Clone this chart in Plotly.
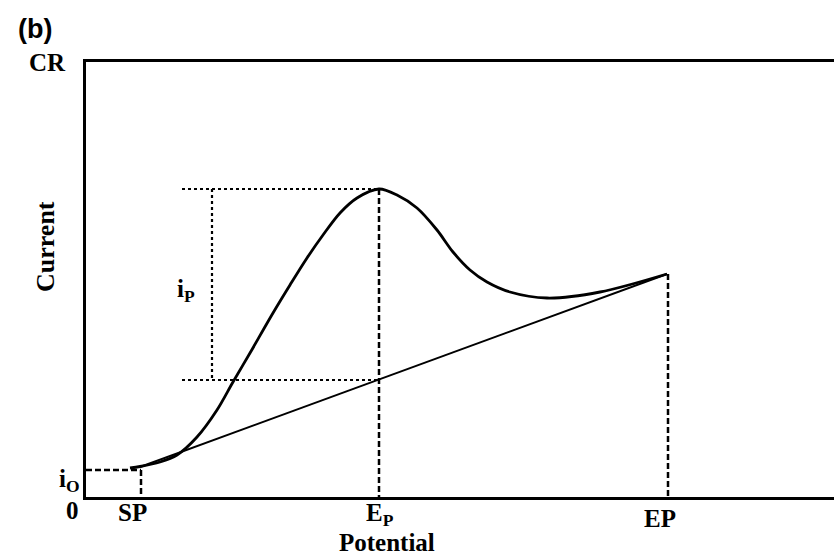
import plotly.graph_objects as go

# Schematic voltammogram (arbitrary units)
potential_curve = [44, 54, 74, 91, 111, 131, 147, 164, 187, 204, 221, 237, 254, 271, 293,
                   311, 331, 351, 367, 384, 401, 424, 461, 514, 581]
current_curve = [29, 30.5, 35, 42, 60, 87, 115, 144, 184, 212, 239, 262, 284, 299, 308,
                 302, 289, 267, 245, 227, 215, 205, 199, 205, 223]

baseline_potential = [54, 581]
baseline_current = [30, 223]

SP, i0 = 55, 27
Ep, ip_top, ip_base = 293, 308, 117
EP, EP_current = 582, 223
ip_x = 126          # x of the i_P dotted bracket
ip_left = 96        # left end of dotted horizontals

x_range = [0, 748]
y_range = [0, 435]

serif = "Liberation Serif"

fig = go.Figure()

fig.add_trace(go.Scatter(x=potential_curve, y=current_curve, mode="lines",
                         line=dict(color="black", width=2.8, shape="spline", smoothing=0.9),
                         hoverinfo="skip"))
fig.add_trace(go.Scatter(x=baseline_potential, y=baseline_current, mode="lines",
                         line=dict(color="black", width=2), hoverinfo="skip"))

# dotted construction lines for i_P
for xs, ys in [([ip_left, Ep], [ip_top, ip_top]),
               ([ip_left, Ep], [ip_base, ip_base]),
               ([ip_x, ip_x], [ip_top, ip_base])]:
    fig.add_trace(go.Scatter(x=xs, y=ys, mode="lines",
                             line=dict(color="black", width=2.2, dash="dot"), hoverinfo="skip"))

# dashed drop lines
for xs, ys in [([Ep, Ep], [ip_top, 0]),
               ([EP, EP], [EP_current, 0]),
               ([0, SP], [i0, i0]),
               ([SP, SP], [i0, 0])]:
    fig.add_trace(go.Scatter(x=xs, y=ys, mode="lines",
                             line=dict(color="black", width=2.5, dash="6px,3px"), hoverinfo="skip"))


def ann(text, x, y, size=25, family=serif, angle=0):
    # x, y in data units; converted to paper fractions so labels outside the axes still show
    fig.add_annotation(text=text, x=x / x_range[1], y=y / y_range[1], xref="paper", yref="paper",
                       showarrow=False, font=dict(family=family, size=size, color="black"),
                       textangle=angle, xanchor="center", yanchor="middle", borderpad=0)


ann("<b>0</b>", -14, -14)
ann("<b>SP</b>", 46, -15)
ann("<b>E<sub>P</sub></b>", 294, -17)
ann("<b>EP</b>", 574, -21)
ann("<b>i<sub>O</sub></b>", -17, 17)
ann("<b>i<sub>P</sub></b>", 100, 207)
ann("<b>CR</b>", -39, 435)
ann("<b>Potential</b>", 301, -45, size=25)
ann("<b>Current</b>", -41, 250, size=26, angle=-90)
ann("<b>(b)</b>", -51, 468, size=27, family="Liberation Sans")

fig.update_xaxes(range=x_range, showline=True, linecolor="black", linewidth=3, mirror=True,
                 showticklabels=False, ticks="", showgrid=False, zeroline=False)
fig.update_yaxes(range=y_range, showline=True, linecolor="black", linewidth=3, mirror=False,
                 showticklabels=False, ticks="", showgrid=False, zeroline=False)

fig.update_layout(width=834, height=559, margin=dict(l=86, r=0, t=62, b=62),
                  plot_bgcolor="white", paper_bgcolor="white", showlegend=False)

fig.write_html("out.html")
